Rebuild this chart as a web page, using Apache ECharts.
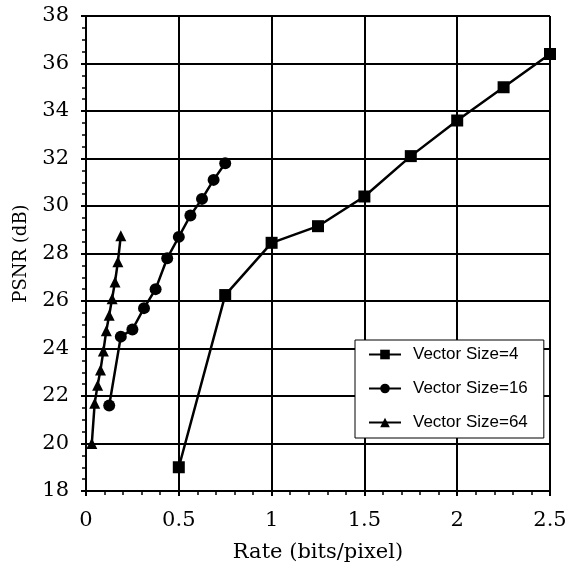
<!DOCTYPE html>
<html>
<head>
<meta charset="utf-8">
<style>
  html, body { margin: 0; padding: 0; background: #fff; }
  #chart { width: 572px; height: 564px; }
</style>
<script src="https://cdn.jsdelivr.net/npm/echarts@6/dist/echarts.min.js"></script>
</head>
<body>
<div id="chart"></div>
<script>
// rate (bits/pixel) and PSNR (dB)
const rate4 = [0.5, 0.75, 1.0, 1.25, 1.5, 1.75, 2.0, 2.25, 2.5]
const psnr4 = [19.0, 26.25, 28.45, 29.15, 30.4, 32.1, 33.6, 35.0, 36.4]

const rate16 = [0.125, 0.1875, 0.25, 0.3125, 0.375, 0.4375, 0.5, 0.5625, 0.625, 0.6875, 0.75]
const psnr16 = [21.6, 24.5, 24.8, 25.7, 26.5, 27.8, 28.7, 29.6, 30.3, 31.1, 31.8]

const rate64 = [0.03125, 0.046875, 0.0625, 0.078125, 0.09375, 0.109375, 0.125, 0.140625, 0.15625, 0.171875, 0.1875]
const psnr64 = [20.0, 21.7, 22.45, 23.1, 23.9, 24.75, 25.4, 26.1, 26.8, 27.65, 28.75]

const seriesNames = ['Vector Size=4', 'Vector Size=16', 'Vector Size=64']

const toPairs = (xs, ys) => xs.map((x, i) => [x, ys[i]])

const chart = echarts.init(document.getElementById('chart'))

const font = 'DejaVu Serif, Liberation Serif, serif'

const option = {
  backgroundColor: '#fff',
  animation: false,
  grid: { left: 86, right: 22, top: 16, bottom: 73, outerBoundsMode: 'none' },
  legend: {
    data: seriesNames,
    orient: 'vertical',
    left: 355,
    top: 340,
    itemWidth: 32,
    itemHeight: 12,
    itemGap: 17,
    padding: [6, 16, 7, 13],
    backgroundColor: '#fff',
    borderColor: '#000',
    borderWidth: 1,
    textStyle: {
      fontFamily: 'Liberation Sans, Arial, sans-serif',
      fontSize: 17,
      color: '#000',
      padding: [0, 0, 0, 7]
    }
  },
  xAxis: {
    type: 'value',
    min: 0,
    max: 2.5,
    interval: 0.5,
    name: 'Rate (bits/pixel)',
    nameLocation: 'middle',
    nameGap: 51,
    nameTextStyle: { fontFamily: font, fontSize: 21, color: '#000' },
    axisLine: { lineStyle: { color: '#000', width: 2 } },
    axisTick: { length: 5, lineStyle: { color: '#000', width: 2 } },
    minorTick: { show: true, splitNumber: 5, length: 4, lineStyle: { color: '#000', width: 1.5 } },
    axisLabel: { fontFamily: font, fontSize: 21, color: '#000', margin: 19 },
    splitLine: { show: true, lineStyle: { color: '#000', width: 2 } }
  },
  yAxis: {
    type: 'value',
    min: 18,
    max: 38,
    interval: 2,
    name: 'PSNR (dB)',
    nameLocation: 'middle',
    nameGap: 56,
    nameTextStyle: { fontFamily: font, fontSize: 18, color: '#000' },
    axisLine: { show: true, lineStyle: { color: '#000', width: 2 } },
    axisTick: { show: true, length: 5, lineStyle: { color: '#000', width: 2 } },
    minorTick: { show: true, splitNumber: 4, length: 4, lineStyle: { color: '#000', width: 1.5 } },
    axisLabel: { fontFamily: font, fontSize: 21, color: '#000', margin: 17 },
    splitLine: { show: true, lineStyle: { color: '#000', width: 2 } }
  },
  series: [
    {
      name: seriesNames[0],
      type: 'line',
      data: toPairs(rate4, psnr4),
      symbol: 'rect',
      symbolSize: 12,
      lineStyle: { color: '#000', width: 2.5 },
      itemStyle: { color: '#000' }
    },
    {
      name: seriesNames[1],
      type: 'line',
      data: toPairs(rate16, psnr16),
      symbol: 'circle',
      symbolSize: 12,
      lineStyle: { color: '#000', width: 2.5 },
      itemStyle: { color: '#000' }
    },
    {
      name: seriesNames[2],
      type: 'line',
      data: toPairs(rate64, psnr64),
      symbol: 'triangle',
      symbolSize: 11,
      lineStyle: { color: '#000', width: 2.5 },
      itemStyle: { color: '#000' }
    }
  ]
}

chart.setOption(option)
</script>
</body>
</html>
